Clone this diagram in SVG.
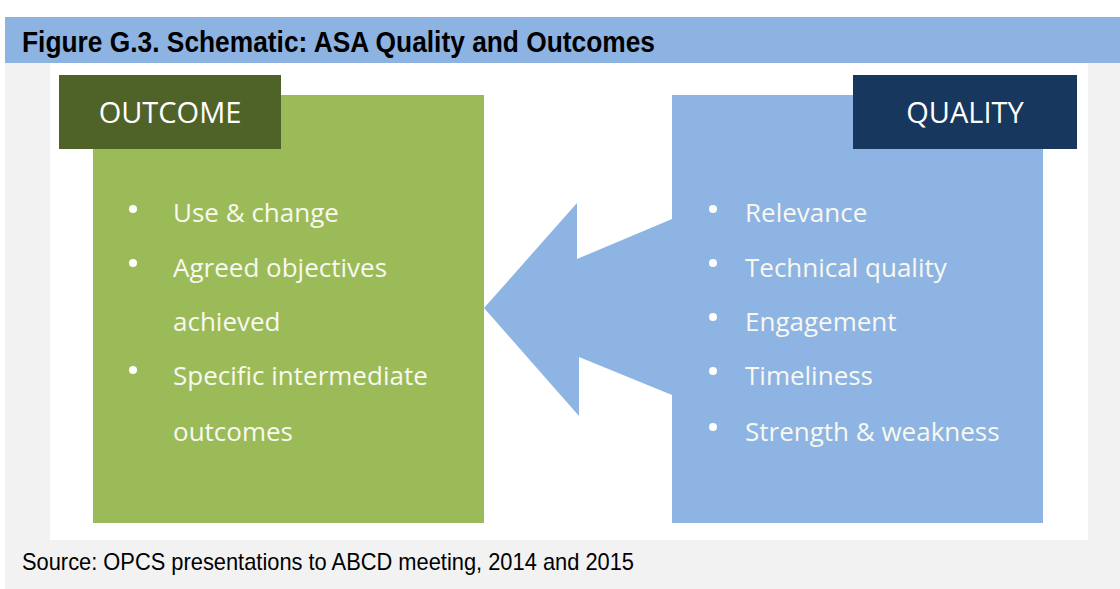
<svg xmlns="http://www.w3.org/2000/svg" width="1120" height="589" viewBox="0 0 1120 589">
<style>
.title{font-family:"Liberation Sans",Arial,sans-serif;font-weight:bold;font-size:29px;fill:#000}
.src{font-family:"Liberation Sans",Arial,sans-serif;font-size:24px;fill:#000}
.hd{font-family:"Open Sans",sans-serif;font-size:29px;fill:#ffffff;text-anchor:middle}
.bt{font-family:"Open Sans",sans-serif;font-size:26px;fill:#f8f8f0}
.dot{fill:#ffffff}
</style>
<rect x="0" y="0" width="1120" height="589" fill="#ffffff"/>
<rect x="5" y="17" width="1115" height="572" fill="#f2f2f2"/>
<rect x="5" y="17" width="1115" height="46" fill="#8db3e2"/>
<text class="title" x="22" y="52" textLength="633" lengthAdjust="spacingAndGlyphs">Figure G.3. Schematic: ASA Quality and Outcomes</text>
<rect x="50" y="63" width="1038" height="477" fill="#ffffff"/>
<g id="connectors">
<polygon points="484,308 577,203 577,259 672,219 672,395 579,357 579,416" fill="#8eb4e3"/>
</g>
<g id="outcome">
<rect x="93" y="95" width="391" height="428" fill="#9bbb59"/>
<rect x="59" y="75" width="222" height="74" fill="#4f6228"/>
<text class="hd" x="170" y="123">OUTCOME</text>
<circle class="dot" cx="133" cy="209" r="4"/>
<circle class="dot" cx="133" cy="263" r="4"/>
<circle class="dot" cx="133" cy="370" r="4"/>
<text class="bt" x="173" y="222">Use &amp; change</text>
<text class="bt" x="173" y="277">Agreed objectives</text>
<text class="bt" x="173" y="331">achieved</text>
<text class="bt" x="173" y="385">Specific intermediate</text>
<text class="bt" x="173" y="441">outcomes</text>
</g>
<g id="quality">
<rect x="672" y="95" width="371" height="428" fill="#8eb4e3"/>
<rect x="853" y="75" width="224" height="74" fill="#17375e"/>
<text class="hd" x="965" y="123">QUALITY</text>
<circle class="dot" cx="713" cy="209" r="4"/>
<circle class="dot" cx="713" cy="263" r="4"/>
<circle class="dot" cx="713" cy="317" r="4"/>
<circle class="dot" cx="713" cy="371" r="4"/>
<circle class="dot" cx="713" cy="427" r="4"/>
<text class="bt" x="745" y="222">Relevance</text>
<text class="bt" x="745" y="277">Technical quality</text>
<text class="bt" x="745" y="331">Engagement</text>
<text class="bt" x="745" y="385">Timeliness</text>
<text class="bt" x="745" y="441">Strength &amp; weakness</text>
</g>
<text class="src" x="22" y="570" textLength="612" lengthAdjust="spacingAndGlyphs">Source: OPCS presentations to ABCD meeting, 2014 and 2015</text>
</svg>
